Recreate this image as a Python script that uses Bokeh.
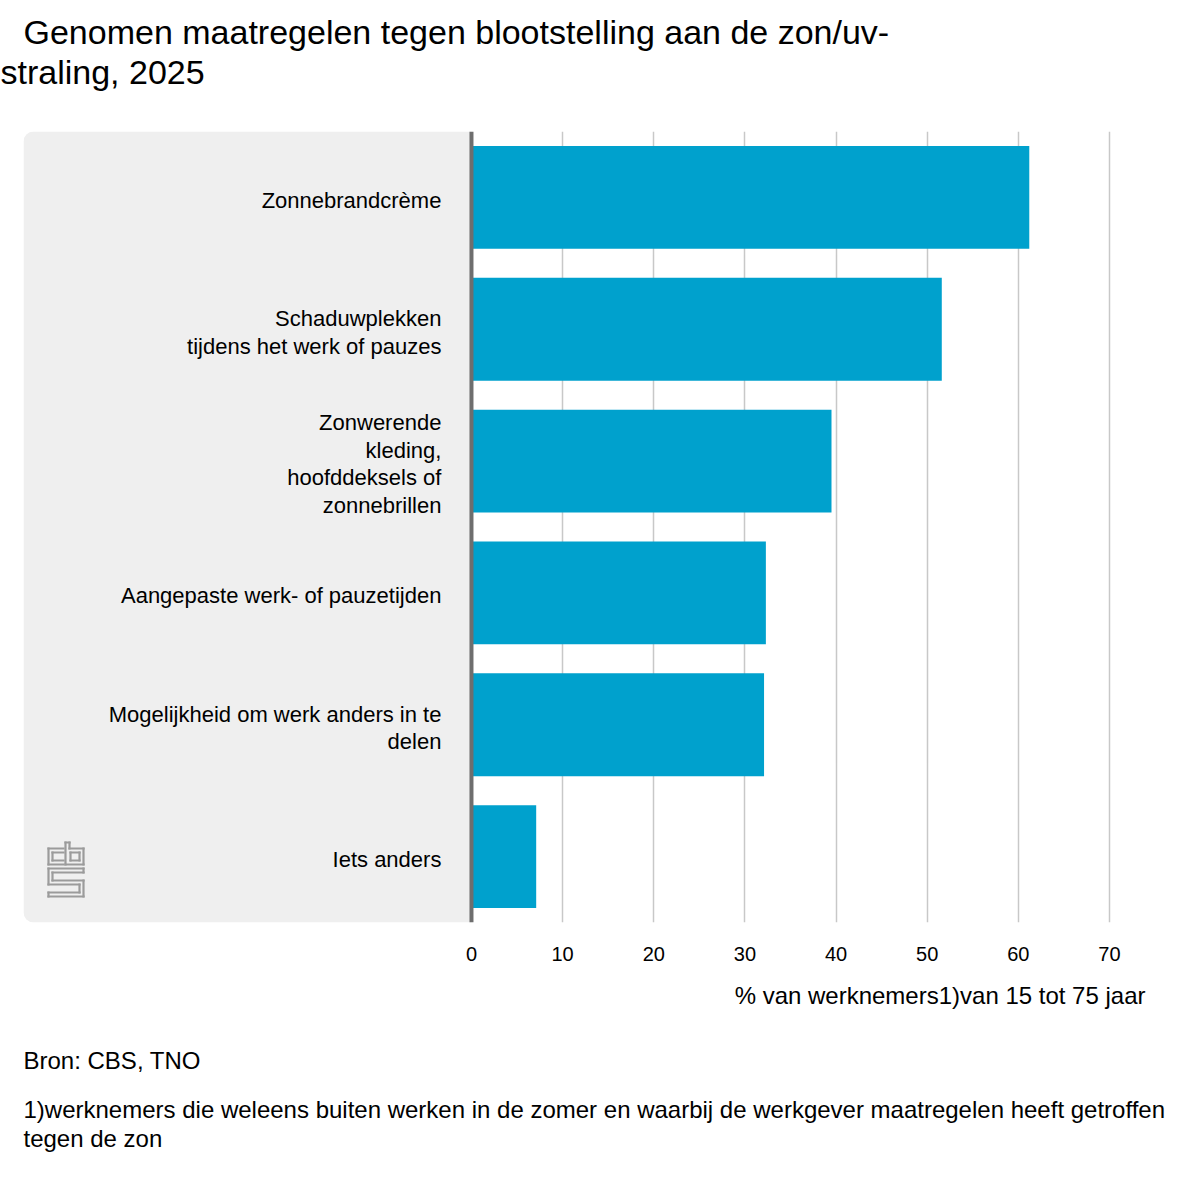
from bokeh.plotting import figure
from bokeh.models import (Range1d, FactorRange, FixedTicker, BoxAnnotation, Span,
                          Title, ColumnDataSource)
from bokeh.core.properties import value
from bokeh.embed import file_html
from bokeh.resources import INLINE

categories = [
    "Zonnebrandcrème",
    "Schaduwplekken\ntijdens het werk of pauzes",
    "Zonwerende\nkleding,\nhoofddeksels of\nzonnebrillen",
    "Aangepaste werk- of pauzetijden",
    "Mogelijkheid om werk anders in te\ndelen",
    "Iets anders",
]
values = [61.2, 51.6, 39.5, 32.3, 32.1, 7.1]
ticks = [0, 10, 20, 30, 40, 50, 60, 70]

title_line1 = "Genomen maatregelen tegen blootstelling aan de zon/uv-"
title_line2 = "straling, 2025"
x_label = "% van werknemers1)van 15 tot 75 jaar"
source_note = "Bron: CBS, TNO"
footnote_1 = "1)werknemers die weleens buiten werken in de zomer en waarbij de werkgever maatregelen heeft getroffen"
footnote_2 = "tegen de zon"

FONT = "Liberation Sans"
BLUE = "#00a1cd"

W, H = 1184, 1170
MB_L, MB_R, MB_T, MB_B = 23, 35, 131, 248
X_START, X_END = -49.15, 74.39

p = figure(width=W, height=H,
           x_range=Range1d(X_START, X_END),
           y_range=FactorRange(factors=list(reversed(categories))),
           output_backend="svg", toolbar_location=None,
           min_border_left=MB_L, min_border_right=MB_R,
           min_border_top=MB_T, min_border_bottom=MB_B)

p.outline_line_color = None
p.background_fill_color = "white"
p.border_fill_color = "white"

# title (two lines): p.title is outermost; the "above" list starts nearest the frame
p.title.text = title_line1
p.title.text_font = FONT
p.title.text_font_size = "34px"
p.title.text_font_style = "normal"
p.title.text_color = "#000000"
p.title.align = "left"
p.title.offset = 0
p.title.standoff = 0
# spacer between the title and the chart
p.add_layout(Title(text=" ", text_font=FONT, text_font_size="20px",
                   align="left", standoff=17), "above")
p.add_layout(Title(text=title_line2, text_font=FONT, text_font_size="34px",
                   text_font_style="normal", text_color="#000000",
                   align="left", offset=-23, standoff=0), "above")

# grey label panel
panel = BoxAnnotation(right=0, fill_color="#efefef", fill_alpha=1.0,
                      line_color=None, level="underlay",
                      border_radius=(10, 0, 0, 10))
p.add_layout(panel)

# small CBS logo in the lower-left corner of the label panel (decoration)
frame_w = W - MB_L - MB_R
frame_h = H - MB_T - MB_B
px_x = frame_w / (X_END - X_START)
px_y = frame_h / len(categories)
LOGO_LEFT, LOGO_TOP_ABOVE_BOTTOM = 24, 80  # pixels from frame left / bottom
logo_paths = [
    [(16, 6), (1, 6), (1, 22), (16, 22)],
    [(16, 10), (5, 10), (5, 18), (16, 18)],
    [(18, 0), (22, 0), (22, 6), (36, 6), (36, 22), (18, 22), (18, 0)],
    [(23, 10), (32, 10), (32, 18), (23, 18), (23, 10)],
    [(36, 26), (1, 26), (1, 42), (32, 42), (32, 50), (1, 50), (1, 54), (36, 54),
     (36, 38), (5, 38), (5, 30), (36, 30), (36, 26)],
]
last_cat = categories[-1]
def lx(v):
    return X_START + (LOGO_LEFT + v) / px_x
def ly(v):
    return [last_cat, -0.5 + (LOGO_TOP_ABOVE_BOTTOM - v) / px_y]
seg = dict(x0=[], y0=[], x1=[], y1=[])
for path in logo_paths:
    for (a, b), (c, d) in zip(path[:-1], path[1:]):
        seg["x0"].append(lx(a)); seg["y0"].append(ly(b))
        seg["x1"].append(lx(c)); seg["y1"].append(ly(d))
p.segment(x0="x0", y0="y0", x1="x1", y1="y1", source=ColumnDataSource(seg),
          line_color="#9b9b9b", line_width=2.2, line_cap="square")

# grid
p.ygrid.visible = False
p.xgrid.ticker = FixedTicker(ticks=ticks[1:])
p.xgrid.grid_line_color = "#c8c8c8"
p.xgrid.grid_line_width = 1.5

# bars
src = ColumnDataSource(dict(cat=categories, val=values))
p.hbar(y="cat", right="val", left=0, height=0.78, source=src,
       fill_color=BLUE, line_color=None)

# category labels
p.text(x=-3.3, y="cat", text="cat", source=src, y_offset=3,
       text_font=value(FONT), text_font_size="22px", text_color="#000000",
       text_align="right", text_baseline="middle", text_line_height=1.1)

# zero line
p.add_layout(Span(location=0, dimension="height", line_color="#6e6e6e", line_width=4))

# axes
p.yaxis.visible = False
xa = p.xaxis[0]
xa.ticker = FixedTicker(ticks=ticks)
xa.axis_line_color = None
xa.major_tick_line_color = None
xa.minor_tick_line_color = None
xa.major_tick_in = 0
xa.major_tick_out = 0
xa.major_label_standoff = 24
xa.major_label_text_font = FONT
xa.major_label_text_font_size = "20px"
xa.major_label_text_color = "#000000"

def below_title(text, align, offset, standoff):
    return Title(text=text, text_font=FONT, text_font_size="24px",
                 text_font_style="normal", text_color="#000000",
                 align=align, offset=offset, standoff=standoff)

p.add_layout(below_title(x_label, "right", 4, 32), "below")
p.add_layout(below_title(source_note, "left", 0, 40), "below")
p.add_layout(below_title(footnote_1, "left", 0, 0), "below")
p.add_layout(below_title(footnote_2, "left", 0, 0), "below")

open("out.html", "w").write(file_html(p, INLINE))
